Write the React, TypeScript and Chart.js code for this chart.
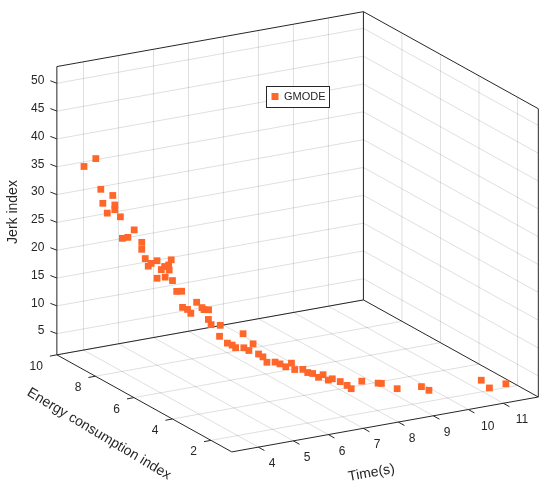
import React, { useEffect, useRef } from "react";
import { Chart, registerables } from "chart.js";

Chart.register(...registerables);

// ---------- data ----------
const SERIES_LABEL = "GMODE";
const TIME = [
  4.01, 4.16, 4.22, 4.24, 4.3, 4.37, 4.39, 4.4, 4.46, 4.49, 4.56, 4.64, 4.73, 4.74, 4.78, 4.81,
  4.85, 4.92, 4.93, 4.98, 5.02, 5.03, 5.08, 5.09, 5.12, 5.14, 5.2, 5.27, 5.29, 5.36, 5.41, 5.49,
  5.57, 5.6, 5.66, 5.67, 5.71, 5.83, 5.84, 5.95, 6.02, 6.08, 6.2, 6.21, 6.3, 6.37, 6.46, 6.53,
  6.6, 6.74, 6.82, 6.92, 7.01, 7.07, 7.23, 7.32, 7.41, 7.52, 7.61, 7.71, 7.78, 7.93, 8.06, 8.15,
  8.37, 8.71, 8.77, 9.1, 9.64, 9.81, 11.03, 11.23, 11.64,
];
const ENERGY = [
  9.99, 9.65, 9.5, 9.43, 9.31, 9.15, 9.08, 9.1, 8.92, 8.87, 8.71, 8.53, 8.3, 8.32, 8.21, 8.11,
  8.03, 7.85, 7.87, 7.74, 7.64, 7.63, 7.54, 7.53, 7.48, 7.45, 7.34, 7.21, 7.2, 7.07, 6.99, 6.83,
  6.7, 6.65, 6.53, 6.54, 6.48, 6.26, 6.24, 6.07, 5.95, 5.88, 5.71, 5.69, 5.59, 5.5, 5.38, 5.28,
  5.2, 5.03, 4.92, 4.8, 4.67, 4.61, 4.48, 4.39, 4.3, 4.19, 4.12, 4.03, 3.95, 3.81, 3.69, 3.64,
  3.49, 3.26, 3.2, 2.98, 2.7, 2.62, 2.12, 2.06, 1.95,
];
const JERK = [
  34.2, 36.1, 30.8, 28.4, 26.8, 30.2, 28.6, 27.7, 26.7, 22.9, 23.3, 24.9, 23.0, 21.7, 20.2, 19.0,
  19.6, 17.2, 20.3, 18.9, 19.6, 17.7, 20.0, 19.1, 21.0, 17.3, 15.5, 15.7, 12.8, 12.6, 12.0, 14.2,
  13.4, 13.1, 11.5, 13.2, 10.6, 8.8, 10.8, 7.8, 7.6, 7.2, 9.9, 7.4, 7.0, 8.3, 6.6, 6.2,
  5.3, 5.5, 5.3, 4.9, 5.7, 4.6, 4.7, 4.2, 4.1, 3.5, 4.0, 3.1, 3.4, 3.0, 2.4, 1.8,
  3.2, 2.9, 2.9, 2.0, 2.3, 1.6, 3.0, 1.5, 2.0,
];

const TIME_TICKS = [4, 5, 6, 7, 8, 9, 10, 11];
const ENERGY_TICKS = [2, 4, 6, 8, 10];
const JERK_TICKS = [5, 10, 15, 20, 25, 30, 35, 40, 45, 50];

const TIME_LIM = [3.24, 12];
const ENERGY_LIM = [0.92, 10];
const JERK_LIM = [1.2, 53];

const TIME_TITLE = "Time(s)";
const ENERGY_TITLE = "Energy consumption index";
const JERK_TITLE = "Jerk index";

// ---------- layout / style ----------
const W = 550;
const H = 492;
const ORIGIN = [53, 357]; // (t min, e max, z min)
const TIME_SPAN = [312, -56];
const ENERGY_SPAN = [178, 99]; // from e max to e min
const JERK_SPAN = [0, -294];

const ORANGE = "rgb(255,102,41)";
const AXIS_COLOR = "#262626";
const TEXT_COLOR = "#262626";
const GRID_COLOR = "rgba(38,38,38,0.15)";
const FONT = '"Liberation Sans", Arial, Helvetica, sans-serif';

const project = (t: number, e: number, z: number) => {
  const ft = (t - TIME_LIM[0]) / (TIME_LIM[1] - TIME_LIM[0]);
  const fe = (ENERGY_LIM[1] - e) / (ENERGY_LIM[1] - ENERGY_LIM[0]);
  const fz = (z - JERK_LIM[0]) / (JERK_LIM[1] - JERK_LIM[0]);
  return {
    x: ORIGIN[0] + ft * TIME_SPAN[0] + fe * ENERGY_SPAN[0] + fz * JERK_SPAN[0],
    y: ORIGIN[1] + ft * TIME_SPAN[1] + fe * ENERGY_SPAN[1] + fz * JERK_SPAN[1],
  };
};

const axes3d = {
  id: "axes3d",
  beforeDatasetsDraw(chart: any) {
    const ctx = chart.ctx as CanvasRenderingContext2D;
    const xs = chart.scales.x;
    const ys = chart.scales.y;
    const pt = (t: number, e: number, z: number) => {
      const p = project(t, e, z);
      return [xs.getPixelForValue(p.x), ys.getPixelForValue(p.y)];
    };
    const seg = (a: number[], b: number[]) => {
      ctx.beginPath();
      ctx.moveTo(a[0], a[1]);
      ctx.lineTo(b[0], b[1]);
      ctx.stroke();
    };
    const [t0, t1] = TIME_LIM;
    const [e0, e1] = ENERGY_LIM;
    const [z0, z1] = JERK_LIM;

    ctx.save();
    ctx.lineWidth = 1;
    // grid
    ctx.strokeStyle = GRID_COLOR;
    TIME_TICKS.forEach((t) => {
      seg(pt(t, e1, z0), pt(t, e1, z1));
      seg(pt(t, e1, z0), pt(t, e0, z0));
    });
    ENERGY_TICKS.forEach((e) => {
      seg(pt(t1, e, z0), pt(t1, e, z1));
      seg(pt(t0, e, z0), pt(t1, e, z0));
    });
    JERK_TICKS.forEach((z) => {
      seg(pt(t0, e1, z), pt(t1, e1, z));
      seg(pt(t1, e1, z), pt(t1, e0, z));
    });

    // box edges
    ctx.strokeStyle = AXIS_COLOR;
    seg(pt(t0, e1, z0), pt(t0, e1, z1));
    seg(pt(t0, e1, z1), pt(t1, e1, z1));
    seg(pt(t1, e1, z1), pt(t1, e0, z1));
    seg(pt(t1, e0, z0), pt(t1, e0, z1));
    seg(pt(t1, e1, z0), pt(t1, e1, z1));
    seg(pt(t0, e1, z0), pt(t1, e1, z0));
    seg(pt(t1, e1, z0), pt(t1, e0, z0));
    seg(pt(t1, e0, z0), pt(t0, e0, z0));
    seg(pt(t0, e0, z0), pt(t0, e1, z0));

    ctx.fillStyle = TEXT_COLOR;
    ctx.font = `12px ${FONT}`;

    // jerk ticks
    ctx.textAlign = "right";
    ctx.textBaseline = "middle";
    JERK_TICKS.forEach((z) => {
      const p = pt(t0, e1, z);
      const q = [p[0] - 6.5, p[1] - 2.5];
      seg(p, q);
      ctx.fillText(String(z), q[0] - 6, q[1]);
    });
    // energy ticks
    ENERGY_TICKS.forEach((e) => {
      const p = pt(t0, e, z0);
      const q = [p[0] - 7, p[1] + 1.3];
      seg(p, q);
      ctx.fillText(String(e), q[0] - 7, q[1] + 10.5);
    });
    // time ticks
    ctx.textAlign = "center";
    TIME_TICKS.forEach((t) => {
      const p = pt(t, e0, z0);
      const q = [p[0] + 6.1, p[1] + 3.4];
      seg(p, q);
      const w = ctx.measureText(String(t)).width;
      ctx.fillText(String(t), q[0] + 2 + 0.85 * w, q[1] + 13.3);
    });

    // axis titles
    ctx.font = `14px ${FONT}`;
    ctx.textAlign = "center";
    ctx.textBaseline = "middle";
    const title = (s: string, x: number, y: number, ang: number) => {
      ctx.save();
      ctx.translate(x, y);
      ctx.rotate(ang);
      ctx.fillText(s, 0, 0);
      ctx.restore();
    };
    title(JERK_TITLE, 13.5, 212, -Math.PI / 2);
    title(ENERGY_TITLE, 99, 434, (31 * Math.PI) / 180);
    title(TIME_TITLE, 371.5, 473, Math.atan2(TIME_SPAN[1], TIME_SPAN[0]));
    ctx.restore();
  },
  afterDatasetsDraw(chart: any) {
    const ctx = chart.ctx as CanvasRenderingContext2D;
    const ds = chart.data.datasets[0];
    ctx.save();
    ctx.fillStyle = "#fff";
    ctx.strokeStyle = AXIS_COLOR;
    ctx.lineWidth = 1;
    ctx.fillRect(266.5, 86.5, 63, 21);
    ctx.strokeRect(266.5, 86.5, 63, 21);
    ctx.fillStyle = ORANGE;
    ctx.fillRect(271.5, 93, 7, 7);
    ctx.fillStyle = TEXT_COLOR;
    ctx.font = `11px ${FONT}`;
    ctx.textAlign = "left";
    ctx.textBaseline = "middle";
    ctx.fillText(ds.label, 284, 97);
    ctx.restore();
  },
};

export default function App() {
  const ref = useRef<HTMLCanvasElement>(null);
  useEffect(() => {
    const chart = new Chart(ref.current as HTMLCanvasElement, {
      type: "scatter",
      data: {
        datasets: [
          {
            label: SERIES_LABEL,
            data: TIME.map((t, i) => project(t, ENERGY[i], JERK[i])),
            pointStyle: "rect",
            pointRadius: 4.8,
            pointHoverRadius: 4.8,
            backgroundColor: ORANGE,
            borderColor: ORANGE,
            borderWidth: 0,
            clip: false,
          } as any,
        ],
      },
      options: {
        animation: false,
        responsive: true,
        maintainAspectRatio: false,
        events: [],
        layout: { padding: 0 },
        plugins: { legend: { display: false }, tooltip: { enabled: false } },
        scales: {
          x: { type: "linear", min: 0, max: W, display: false },
          y: { type: "linear", min: 0, max: H, reverse: true, display: false },
        },
      },
      plugins: [axes3d],
    });
    return () => chart.destroy();
  }, []);
  return (
    <div style={{ position: "fixed", left: 0, top: 0, width: W, height: H, background: "#fff" }}>
      <canvas ref={ref} />
    </div>
  );
}
